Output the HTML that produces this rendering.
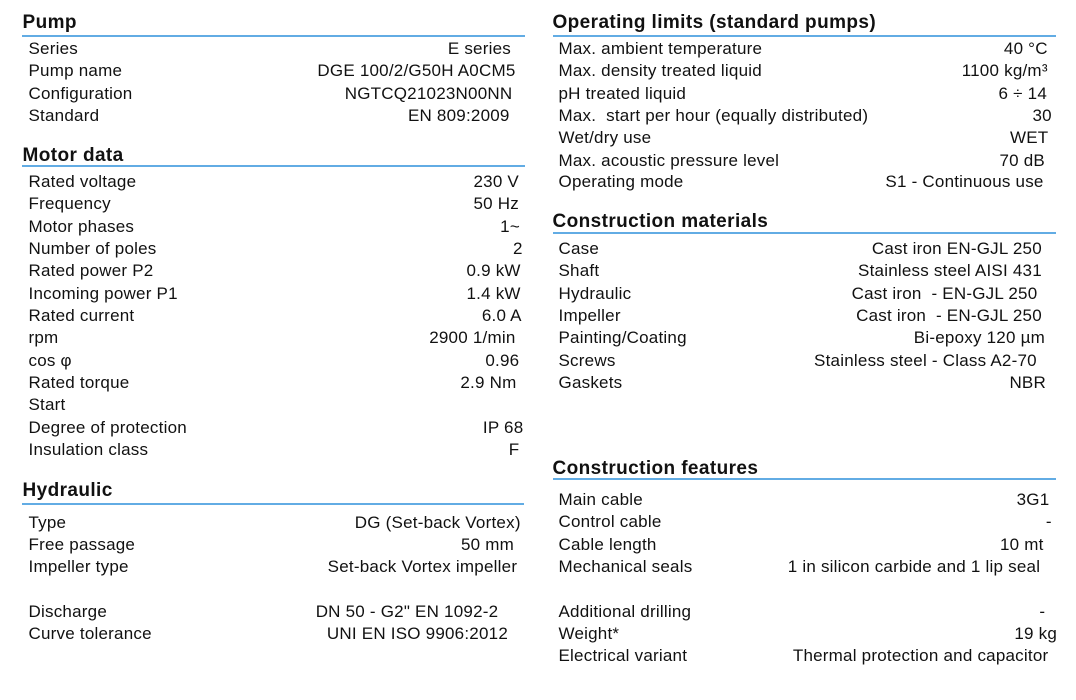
<!DOCTYPE html>
<html>
<head>
<meta charset="utf-8">
<style>
  html, body { margin:0; padding:0; }
  body { width:1076px; height:700px; background:#fff; position:relative; overflow:hidden;
         font-family:"Liberation Sans", Arial, sans-serif; color:#111; }
  .r { position:absolute; left:0; width:1076px; height:20px; line-height:20px; font-size:17px; letter-spacing:0.22px; }
  .r span { position:absolute; top:0; white-space:pre; }
  .h { position:absolute; height:22px; line-height:22px; font-size:19px; font-weight:bold; letter-spacing:0.4px; white-space:pre; color:#111; }
  .ln { position:absolute; height:2px; background:#62ace4; }
</style>
</head>
<body>

<!-- LEFT COLUMN -->
<div class="h" style="left:22.5px; top:12px;">Pump</div>
<div class="ln" style="left:22px; width:503px; top:35px;"></div>
<div class="r" style="top:39.1px"><span style="left:28.5px">Series</span><span style="right:565px">E series</span></div>
<div class="r" style="top:61.4px"><span style="left:28.5px">Pump name</span><span style="right:560.5px">DGE 100/2/G50H A0CM5</span></div>
<div class="r" style="top:83.8px"><span style="left:28.5px">Configuration</span><span style="right:563.6px">NGTCQ21023N00NN</span></div>
<div class="r" style="top:106.1px"><span style="left:28.5px">Standard</span><span style="right:566.4px">EN 809:2009</span></div>

<div class="h" style="left:22.5px; top:144.9px;">Motor data</div>
<div class="ln" style="left:22px; width:503px; top:165px;"></div>
<div class="r" style="top:172.1px"><span style="left:28.5px">Rated voltage</span><span style="right:557px">230 V</span></div>
<div class="r" style="top:194.4px"><span style="left:28.5px">Frequency</span><span style="right:557px">50 Hz</span></div>
<div class="r" style="top:216.8px"><span style="left:28.5px">Motor phases</span><span style="right:556px">1~</span></div>
<div class="r" style="top:239.1px"><span style="left:28.5px">Number of poles</span><span style="right:553.3px">2</span></div>
<div class="r" style="top:261.4px"><span style="left:28.5px">Rated power P2</span><span style="right:555.3px">0.9 kW</span></div>
<div class="r" style="top:283.8px"><span style="left:28.5px">Incoming power P1</span><span style="right:555.3px">1.4 kW</span></div>
<div class="r" style="top:306.1px"><span style="left:28.5px">Rated current</span><span style="right:554.3px">6.0 A</span></div>
<div class="r" style="top:328.4px"><span style="left:28.5px">rpm</span><span style="right:560.5px">2900 1/min</span></div>
<div class="r" style="top:350.8px"><span style="left:28.5px">cos φ</span><span style="right:556.7px">0.96</span></div>
<div class="r" style="top:373.1px"><span style="left:28.5px">Rated torque</span><span style="right:559.5px">2.9 Nm</span></div>
<div class="r" style="top:395.4px"><span style="left:28.5px">Start</span></div>
<div class="r" style="top:417.8px"><span style="left:28.5px">Degree of protection</span><span style="right:552.6px">IP 68</span></div>
<div class="r" style="top:440.1px"><span style="left:28.5px">Insulation class</span><span style="right:556.7px">F</span></div>

<div class="h" style="left:22.5px; top:479.9px;">Hydraulic</div>
<div class="ln" style="left:22px; width:502px; top:503px;"></div>
<div class="r" style="top:512.6px"><span style="left:28.5px">Type</span><span style="right:555.3px">DG (Set-back Vortex)</span></div>
<div class="r" style="top:534.9px"><span style="left:28.5px">Free passage</span><span style="right:562px">50 mm</span></div>
<div class="r" style="top:557.3px"><span style="left:28.5px">Impeller type</span><span style="right:558.8px">Set-back Vortex impeller</span></div>
<div class="r" style="top:602.1px"><span style="left:28.5px">Discharge</span><span style="right:577.7px">DN 50 - G2" EN 1092-2</span></div>
<div class="r" style="top:624.4px"><span style="left:28.5px">Curve tolerance</span><span style="right:568px">UNI EN ISO 9906:2012</span></div>

<!-- RIGHT COLUMN -->
<div class="h" style="left:552.5px; top:12px;">Operating limits (standard pumps)</div>
<div class="ln" style="left:552.5px; width:503.5px; top:35px;"></div>
<div class="r" style="top:39.1px"><span style="left:558.5px">Max. ambient temperature</span><span style="right:28.3px">40 °C</span></div>
<div class="r" style="top:61.4px"><span style="left:558.5px">Max. density treated liquid</span><span style="right:28.3px">1100 kg/m³</span></div>
<div class="r" style="top:83.8px"><span style="left:558.5px">pH treated liquid</span><span style="right:29px">6 ÷ 14</span></div>
<div class="r" style="top:106.1px"><span style="left:558.5px">Max.  start per hour (equally distributed)</span><span style="right:24.2px">30</span></div>
<div class="r" style="top:128.4px"><span style="left:558.5px">Wet/dry use</span><span style="right:27.6px">WET</span></div>
<div class="r" style="top:150.8px"><span style="left:558.5px">Max. acoustic pressure level</span><span style="right:31px">70 dB</span></div>
<div class="r" style="top:172.1px"><span style="left:558.5px">Operating mode</span><span style="right:32.4px">S1 - Continuous use</span></div>

<div class="h" style="left:552.5px; top:211.4px;">Construction materials</div>
<div class="ln" style="left:552.5px; width:503.5px; top:232px;"></div>
<div class="r" style="top:239.1px"><span style="left:558.5px">Case</span><span style="right:34.1px">Cast iron EN-GJL 250</span></div>
<div class="r" style="top:261.4px"><span style="left:558.5px">Shaft</span><span style="right:34.1px">Stainless steel AISI 431</span></div>
<div class="r" style="top:283.8px"><span style="left:558.5px">Hydraulic</span><span style="right:38.6px">Cast iron  - EN-GJL 250</span></div>
<div class="r" style="top:306.1px"><span style="left:558.5px">Impeller</span><span style="right:34.1px">Cast iron  - EN-GJL 250</span></div>
<div class="r" style="top:328.4px"><span style="left:558.5px">Painting/Coating</span><span style="right:31px">Bi-epoxy 120 µm</span></div>
<div class="r" style="top:350.8px"><span style="left:558.5px">Screws</span><span style="right:39.2px">Stainless steel - Class A2-70</span></div>
<div class="r" style="top:373.1px"><span style="left:558.5px">Gaskets</span><span style="right:30px">NBR</span></div>

<div class="h" style="left:552.5px; top:457.9px;">Construction features</div>
<div class="ln" style="left:552.5px; width:503.5px; top:478px;"></div>
<div class="r" style="top:490.1px"><span style="left:558.5px">Main cable</span><span style="right:26.6px">3G1</span></div>
<div class="r" style="top:512.4px"><span style="left:558.5px">Control cable</span><span style="right:24.2px">-</span></div>
<div class="r" style="top:534.8px"><span style="left:558.5px">Cable length</span><span style="right:32.4px">10 mt</span></div>
<div class="r" style="top:557.1px"><span style="left:558.5px">Mechanical seals</span><span style="right:35.8px">1 in silicon carbide and 1 lip seal</span></div>
<div class="r" style="top:601.8px"><span style="left:558.5px">Additional drilling</span><span style="right:30.7px">-</span></div>
<div class="r" style="top:624.1px"><span style="left:558.5px">Weight*</span><span style="right:19px">19 kg</span></div>
<div class="r" style="top:646.4px"><span style="left:558.5px">Electrical variant</span><span style="right:27.6px">Thermal protection and capacitor</span></div>

</body>
</html>
